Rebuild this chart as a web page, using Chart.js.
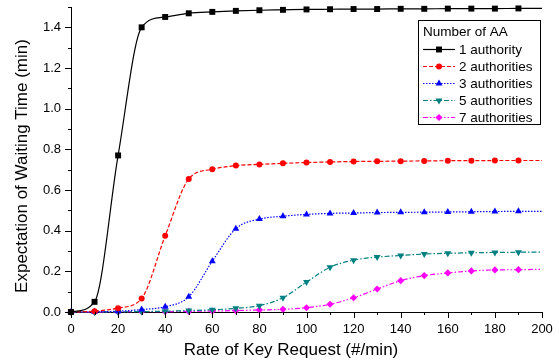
<!DOCTYPE html>
<html>
<head>
<meta charset="utf-8">
<script src="https://cdn.jsdelivr.net/npm/chart.js@4.4.1/dist/chart.umd.min.js"></script>
<style>
  html, body { margin: 0; padding: 0; background: #fff; }
  #wrap { width: 559px; height: 360px; position: relative; }
</style>
</head>
<body>
<div id="wrap"><canvas id="chart"></canvas></div>
<script>
// rate of key request (#/min)
const rates = [0, 10, 20, 30, 40, 50, 60, 70, 80, 90, 100, 110, 120, 130, 140, 150, 160, 170, 180, 190, 200];

// expectation of waiting time (min), one array per number of AA
const aa1 = [0, 0.05, 0.77, 1.40, 1.451, 1.469, 1.476, 1.481, 1.484, 1.486, 1.488, 1.489, 1.490, 1.490, 1.491, 1.491, 1.492, 1.492, 1.492, 1.493, 1.493];
const aa2 = [0, 0.004, 0.019, 0.067, 0.375, 0.654, 0.702, 0.72, 0.726, 0.731, 0.735, 0.738, 0.740, 0.741, 0.742, 0.743, 0.744, 0.744, 0.745, 0.745, 0.745];
const aa3 = [0, 0.001, 0.004, 0.012, 0.026, 0.075, 0.25, 0.41, 0.457, 0.471, 0.48, 0.485, 0.487, 0.489, 0.490, 0.491, 0.492, 0.493, 0.494, 0.495, 0.495];
const aa5 = [0, 0, 0.001, 0.002, 0.004, 0.007, 0.011, 0.018, 0.031, 0.07, 0.147, 0.22, 0.255, 0.27, 0.278, 0.285, 0.289, 0.291, 0.293, 0.294, 0.295];
const aa7 = [0, 0, 0.001, 0.002, 0.002, 0.003, 0.005, 0.007, 0.01, 0.013, 0.021, 0.038, 0.07, 0.113, 0.154, 0.179, 0.192, 0.202, 0.207, 0.208, 0.21];

const seriesNames = ['1 authority', '2 authorities', '3 authorities', '5 authorities', '7 authorities'];
const legendTitle = 'Number of AA';
const xTitle = 'Rate of Key Request (#/min)';
const yTitle = 'Expectation of Waiting Time (min)';

const FONT = '"Liberation Sans", Arial, sans-serif';
const lastIdx = rates.length - 1;

const styles = [
  { color: '#000000', dash: [], point: 'rect', rot: 0, r: 4.2 },
  { color: '#ff0000', dash: [4, 2], point: 'circle', rot: 0, r: 3 },
  { color: '#0000ff', dash: [1.5, 1.5], point: 'triangle', rot: 0, r: 4 },
  { color: '#008080', dash: [5, 2, 1.5, 2], point: 'triangle', rot: 180, r: 4 },
  { color: '#ff00ff', dash: [5, 2, 1.5, 2, 1.5, 2], point: 'rectRot', rot: 0, r: 3.6 }
];

const makeSet = (name, values, s) => ({
  label: name,
  data: rates.map((x, i) => ({ x: x, y: values[i] })),
  borderColor: s.color,
  backgroundColor: s.color,
  borderWidth: 1.2,
  borderDash: s.dash,
  pointStyle: s.point,
  pointRotation: s.rot,
  pointRadius: rates.map((x, i) => i === lastIdx ? 0 : s.r),
  pointBorderWidth: 0,
  pointBackgroundColor: s.color,
  cubicInterpolationMode: 'monotone',
  clip: false
});

const datasets = [aa1, aa2, aa3, aa5, aa7].map((v, i) => makeSet(seriesNames[i], v, styles[i]));

// ticks, axis titles and the legend box
const decor = {
  id: 'decor',
  afterDraw(chart) {
    const { ctx, chartArea, scales: { x, y } } = chart;
    ctx.save();
    ctx.strokeStyle = '#000';
    ctx.lineWidth = 1;
    ctx.setLineDash([]);
    ctx.beginPath();
    x.ticks.forEach(t => {
      const px = Math.round(x.getPixelForValue(t.value)) + 0.5;
      const len = Math.round(t.value) % 20 === 0 ? 6 : 3;
      ctx.moveTo(px, chartArea.bottom);
      ctx.lineTo(px, chartArea.bottom + len);
    });
    y.ticks.forEach(t => {
      const py = Math.round(y.getPixelForValue(t.value)) + 0.5;
      const len = Math.round(t.value * 10) % 2 === 0 ? 6 : 3;
      ctx.moveTo(chartArea.left, py);
      ctx.lineTo(chartArea.left - len, py);
    });
    ctx.stroke();

    ctx.fillStyle = '#000';
    ctx.font = '17px ' + FONT;
    ctx.textAlign = 'center';
    ctx.textBaseline = 'middle';
    ctx.fillText(xTitle, 291, 350);
    ctx.save();
    ctx.translate(22, 166);
    ctx.rotate(-Math.PI / 2);
    ctx.fillText(yTitle, 0, 0);
    ctx.restore();

    // legend
    const bx = 418.5, by = 20.5, bw = 122, bh = 104;
    ctx.fillStyle = '#fff';
    ctx.fillRect(bx, by, bw, bh);
    ctx.strokeStyle = '#000';
    ctx.strokeRect(bx, by, bw, bh);
    ctx.fillStyle = '#000';
    ctx.font = '13.5px ' + FONT;
    ctx.textAlign = 'left';
    ctx.fillText(legendTitle, 423, 32);
    chart.data.datasets.forEach((ds, i) => {
      const ly = 49.5 + i * 17;
      ctx.strokeStyle = ds.borderColor;
      ctx.lineWidth = ds.borderWidth;
      ctx.setLineDash(ds.borderDash);
      ctx.beginPath();
      ctx.moveTo(423, ly);
      ctx.lineTo(455, ly);
      ctx.stroke();
      ctx.setLineDash([]);
      ctx.fillStyle = ds.borderColor;
      Chart.helpers.drawPoint(ctx, { pointStyle: ds.pointStyle, rotation: ds.pointRotation, radius: styles[i].r, borderWidth: 0 }, 439, ly);
      ctx.fillStyle = '#000';
      ctx.fillText(ds.label, 459, ly + 0.5);
    });
    ctx.restore();
  }
};

new Chart(document.getElementById('chart'), {
  type: 'line',
  data: { datasets: datasets },
  options: {
    responsive: true,
    maintainAspectRatio: false,
    animation: false,
    layout: { padding: { left: 0, top: 7, right: 17, bottom: 0 }, autoPadding: false },
    plugins: { legend: { display: false }, tooltip: { enabled: false } },
    scales: {
      x: {
        type: 'linear',
        min: 0,
        max: 200,
        grid: { display: false, drawTicks: false },
        border: { display: true, color: '#000', width: 1 },
        ticks: {
          stepSize: 10,
          padding: 10,
          autoSkip: false,
          maxRotation: 0,
          color: '#000',
          font: { family: FONT, size: 13 },
          callback: v => (Math.round(v) % 20 === 0 ? String(v) : '')
        },
        afterFit: s => { s.height = 48; s.paddingLeft = 0; s.paddingRight = 0; }
      },
      y: {
        type: 'linear',
        min: 0,
        max: 1.5,
        grid: { display: false, drawTicks: false },
        border: { display: true, color: '#000', width: 1 },
        ticks: {
          stepSize: 0.1,
          padding: 10,
          autoSkip: false,
          color: '#000',
          font: { family: FONT, size: 13 },
          callback: v => (Math.round(v * 10) % 2 === 0 ? v.toFixed(1) : '')
        },
        afterFit: s => { s.width = 71; s.paddingTop = 0; s.paddingBottom = 0; }
      }
    }
  },
  plugins: [decor]
});
</script>
</body>
</html>
